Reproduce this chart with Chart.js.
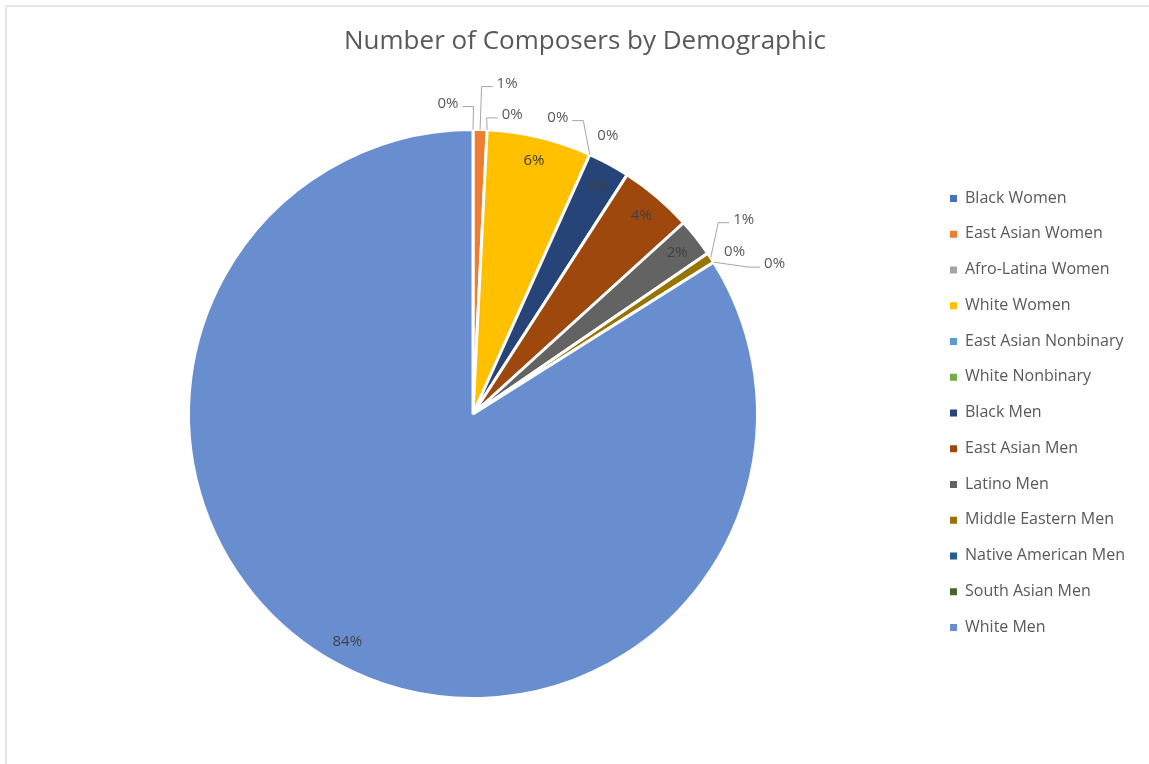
<!DOCTYPE html>
<html>
<head>
<meta charset="utf-8">
<title>Number of Composers by Demographic</title>
<script src="https://cdn.jsdelivr.net/npm/chart.js@4.4.1/dist/chart.umd.min.js"></script>
<style>
html,body{margin:0;padding:0;background:#fff;}
#wrap{position:relative;width:1149px;height:764px;overflow:hidden;}
#frame{position:absolute;left:5px;top:5px;right:-10px;bottom:-10px;border-top:2px solid #e6e6e6;border-left:2px solid #e6e6e6;}
#chart{position:absolute;left:0;top:0;}
</style>
</head>
<body>
<div id="wrap"><div id="frame"></div><canvas id="chart" width="1149" height="764"></canvas></div>
<script>
// data
const categories=['Black Women','East Asian Women','Afro-Latina Women','White Women','East Asian Nonbinary','White Nonbinary','Black Men','East Asian Men','Latino Men','Middle Eastern Men','Native American Men','South Asian Men','White Men'];
const composerCounts=[0,4,0,30,0,0,12,21,11,3,0,0,424];
const sliceColors=['#4472C4','#ED7D31','#A5A5A5','#FFC000','#5B9BD5','#70AD47','#264478','#9E480E','#636363','#997300','#255E91','#43682B','#698ED0'];
const chartTitle='Number of Composers by Demographic';

// where the small slices put their labels (offset from the slice edge)
const outsideLabelNudge=[
    {dx:-25,dy:-26,leader:true},
    {dx:27,dy:-46,leader:true},
    {dx:25,dy:-15,leader:true},
    null,
    {dx:-32,dy:-37,leader:true},
    {dx:18,dy:-19,leader:false},
    null,null,null,
    {dx:33,dy:-38,leader:true},
    {dx:21,dy:-10,leader:false},
    {dx:61,dy:2,leader:true},
    null
];

const FONT='"Open Sans", "DejaVu Sans", sans-serif';

const pieExtras={
    id:'pieExtras',
    afterDraw(chart){
        const ctx=chart.ctx;
        const meta=chart.getDatasetMeta(0);
        const values=chart.data.datasets[0].data;
        const colors=chart.data.datasets[0].backgroundColor;
        const total=values.reduce((a,b)=>a+b,0);
        ctx.save();
        // title
        ctx.fillStyle='#595959';
        ctx.font='26px '+FONT;
        ctx.textAlign='center';
        ctx.textBaseline='middle';
        ctx.fillText(chartTitle,585,42);

        // data labels
        ctx.font='15px '+FONT;
        meta.data.forEach((arc,i)=>{
            const pct=Math.round(values[i]/total*100)+'%';
            const R=arc.outerRadius;
            const mid=(arc.startAngle+arc.endAngle)/2;
            const nudge=outsideLabelNudge[i];
            if(!nudge){
                ctx.fillStyle='#404040';
                ctx.textAlign='center';
                ctx.fillText(pct,arc.x+Math.cos(mid)*R*0.915,arc.y+Math.sin(mid)*R*0.915);
                return;
            }
            const ax=arc.x+Math.cos(mid)*R, ay=arc.y+Math.sin(mid)*R;
            const tx=ax+nudge.dx, ty=ay+nudge.dy;
            const w=ctx.measureText(pct).width;
            if(nudge.leader){
                const side=nudge.dx<0?1:-1;
                const edge=tx+side*w/2;
                ctx.strokeStyle='#A6A6A6';
                ctx.lineWidth=1;
                ctx.beginPath();
                ctx.moveTo(ax,ay);
                ctx.lineTo(edge+side*15,ty+3);
                ctx.lineTo(edge+side*4,ty+3);
                ctx.stroke();
            }
            ctx.fillStyle='#595959';
            ctx.textAlign='center';
            ctx.fillText(pct,tx,ty);
        });

        // legend
        ctx.font='16px '+FONT;
        ctx.textAlign='left';
        categories.forEach((name,i)=>{
            const y=198+i*35.75;
            ctx.fillStyle=colors[i];
            ctx.fillRect(950,y-3,7,7);
            ctx.fillStyle='#595959';
            ctx.fillText(name,965,y);
        });
        ctx.restore();
    }
};

new Chart(document.getElementById('chart'),{
    type:'pie',
    data:{
        labels:categories,
        datasets:[{
            data:composerCounts,
            backgroundColor:sliceColors,
            borderColor:'#ffffff',
            borderWidth:3
        }]
    },
    options:{
        responsive:false,
        animation:false,
        layout:{padding:{left:187,right:390,top:128,bottom:64}},
        plugins:{
            legend:{display:false},
            tooltip:{enabled:false}
        }
    },
    plugins:[pieExtras]
});
</script>
</body>
</html>
